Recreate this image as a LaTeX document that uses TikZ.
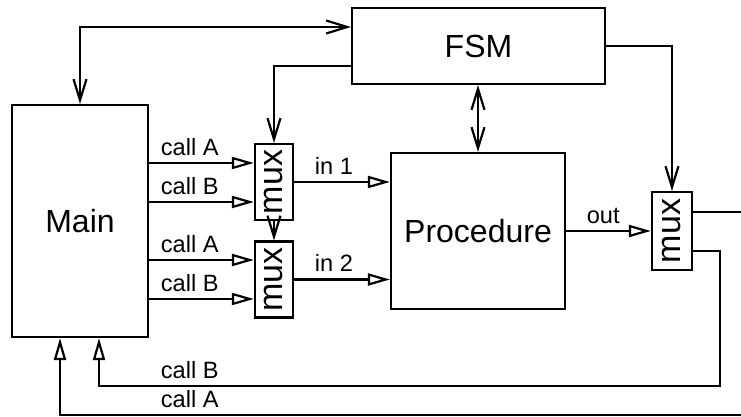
\documentclass[tikz,border=0pt]{standalone}
\usepackage{fontspec}
\setmainfont{Liberation Sans}
\usetikzlibrary{positioning,arrows.meta}

\begin{document}
\begin{tikzpicture}[
  x=0.5pt,y=-0.5pt,line width=1.1pt,
  block/.style={rectangle,draw,line width=1.1pt,font=\fontsize{16}{18}\selectfont,inner sep=0pt},
  muxbox/.style={block,minimum width=19pt,minimum height=38pt,font=\fontsize{17}{19}\selectfont},
  lbl/.style={font=\fontsize{11.8}{13}\selectfont,anchor=south west},
  varrow/.style={-{Straight Barb[length=10.5pt,width=6.5pt]}},
  dvarrow/.style={{Straight Barb[length=10.5pt,width=6.5pt]}-{Straight Barb[length=10.5pt,width=6.5pt]}},
  inarrow/.style={-{Triangle[open,length=11pt,width=6pt]}},
]

\useasboundingbox (0,0) rectangle (741,417);

% Blocks
\node[block,minimum width=68pt,minimum height=116pt] (main) at (80,221) {Main};
\node[block,minimum width=126.5pt,minimum height=38pt] (fsm) at (478.5,46) {FSM};
\node[block,minimum width=87pt,minimum height=78pt] (proc) at (478,231) {Procedure};

% Multiplexers
\node[muxbox] (mux1) at (274,182) {\rotatebox{90}{mux}};
\node[muxbox] (mux2) at (274,279.5) {\rotatebox{90}{mux}};
\node[muxbox,minimum width=20pt,minimum height=39pt] (mux3) at (672,231) {\rotatebox{90}{mux}};

% Free ends and return points
\coordinate (outR) at (741,212);
\coordinate (retB) at (720,386);
\coordinate (retA) at (741,415);
\coordinate (mainB) at ([xshift=9.5pt]main.south);
\coordinate (mainA) at ([xshift=-10pt]main.south);

% FSM control lines
\draw[dvarrow] (main.north) |- ([yshift=9.5pt]fsm.west);
\draw[varrow] ([yshift=-10pt]fsm.west) -| (mux1.north);
\draw[dvarrow] (proc.north |- fsm.south) -- (proc.north);
\draw[varrow] (fsm.east) -| (mux3.north);
\draw[varrow] (mux1.south) -- (mux2.north);

% Calls from Main
\draw[inarrow] (main.east |- 0,163) -- ([yshift=9.5pt]mux1.west)
  node[lbl,pos=0,xshift=2pt] {call A};
\draw[inarrow] (main.east |- 0,202) -- ([yshift=-10pt]mux1.west)
  node[lbl,pos=0,xshift=2pt] {call B};
\draw[inarrow] (main.east |- 0,260) -- ([yshift=9.75pt]mux2.west)
  node[lbl,pos=0,xshift=2pt] {call A};
\draw[inarrow] (main.east |- 0,299) -- ([yshift=-9.75pt]mux2.west)
  node[lbl,pos=0,xshift=2pt] {call B};

% Inputs and output of Procedure
\draw[inarrow] (mux1.east) -- (proc.west |- mux1.east)
  node[lbl,pos=0,xshift=6.5pt] {in 1};
\draw[inarrow] (mux2.east) -- (proc.west |- mux2.east)
  node[lbl,pos=0,xshift=6.5pt] {in 2};
\draw[inarrow] (proc.east) -- (mux3.west)
  node[lbl,pos=0,xshift=6.5pt] {out};

% Results of the output mux
\draw ([yshift=9.5pt]mux3.east) -- (outR);
\draw[inarrow] ([yshift=-10pt]mux3.east) -| (retB) -| (mainB);
\draw[inarrow] (retA) -| (mainA);
\node[lbl,xshift=2pt] (lblB) at (main.east |- retB) {call B};
\node[lbl,xshift=2pt] (lblA) at (main.east |- retA) {call A};

\end{tikzpicture}
\end{document}
